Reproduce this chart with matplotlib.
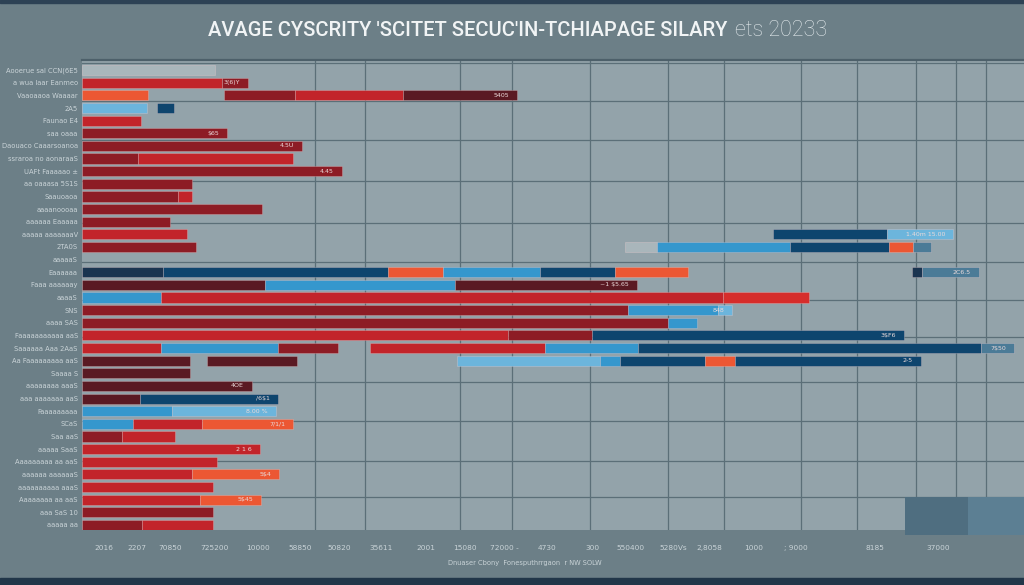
import matplotlib
matplotlib.use("Agg")
import matplotlib.pyplot as plt
from matplotlib.patches import Rectangle

# ---------------- data ----------------
TITLE_MAIN = "AVAGE CYSCRITY 'SCITET SECUC'IN-TCHIAPAGE SILARY"
TITLE_TAIL = "ets 20233"
FOOTER = "Dnuaser Cbony  Fonesputhrrgaon  r NW SOLW"

ROW_LABELS = [
    "Aooerue sal CCN(6E5", "a wua laar Eanmeo", "Vaaoaaoa Waaaar", "2A5",
    "Faunao E4", "saa oaaa", "Daouaco Caaarsoanoa", "ssraroa no aonaraaS",
    "UAFt Faaaaao \u00b1", "aa oaaasa 5S1S", "Saauoaoa", "aaaanoooaa",
    "aaaaaa Eaaaaa", "aaaaa aaaaaaaV", "2TA0S", "aaaaaS", "Eaaaaaa",
    "Faaa aaaaaay", "aaaaS", "SNS", "aaaa SAS", "Faaaaaaaaaaa aaS",
    "Saaaaaa Aaa 2AaS", "Aa Faaaaaaaaa aaS", "Saaaa S", "aaaaaaaa aaaS",
    "aaa aaaaaaa aaS", "Faaaaaaaaa", "SCaS", "Saa aaS", "aaaaa SaaS",
    "Aaaaaaaaa aa aaS", "aaaaaa aaaaaaS", "aaaaaaaaaa aaaS", "Aaaaaaaa aa aaS",
    "aaa SaS 10", "aaaaa aa",
]

# stacked segments per row: (width, colour key); 'gap' = empty stretch
ROW_SEGMENTS = [
    [(133, "gray")],
    [(140, "red"), (26, "dred")],
    [(66, "orange"), (76, "gap"), (71, "dred"), (108, "red"), (114, "maroon")],
    [(65, "lb2"), (10, "gap"), (17, "navy")],
    [(59, "red")],
    [(145, "dred")],
    [(220, "dred")],
    [(56, "dred"), (155, "red")],
    [(260, "dred")],
    [(110, "dred")],
    [(96, "dred"), (14, "red")],
    [(180, "dred")],
    [(88, "dred")],
    [(105, "red"), (586, "gap"), (114, "navy"), (66, "lb2")],
    [(114, "dred"), (429, "gap"), (32, "gray"), (133, "lb"), (99, "navy"), (24, "orange"), (18, "steel")],
    [],
    [(81, "dnavy"), (225, "navy"), (55, "orange"), (97, "lb"), (75, "navy"), (73, "orange"), (224, "gap"), (10, "dnavy"), (57, "steel")],
    [(183, "maroon"), (190, "lb"), (182, "maroon")],
    [(79, "lb"), (562, "red"), (86, "red2")],
    [(546, "dred"), (90, "lb"), (14, "lb2")],
    [(586, "dred"), (29, "lb")],
    [(426, "red"), (84, "dred"), (312, "navy")],
    [(79, "red"), (117, "lb"), (60, "dred"), (32, "gap"), (175, "red"), (93, "lb"), (343, "navy"), (33, "steel")],
    [(108, "maroon"), (17, "gap"), (90, "maroon"), (160, "gap"), (143, "lb2"), (20, "lb"), (85, "navy"), (30, "orange"), (186, "navy")],
    [(108, "maroon")],
    [(170, "maroon")],
    [(58, "maroon"), (138, "navy")],
    [(90, "lb"), (104, "lb2")],
    [(51, "lb"), (69, "red"), (91, "orange")],
    [(40, "dred"), (53, "red")],
    [(178, "red")],
    [(135, "red")],
    [(110, "red"), (87, "orange")],
    [(131, "red")],
    [(118, "red"), (61, "orange")],
    [(131, "dred")],
    [(60, "dred"), (71, "red")],
]

ROW_NOTES = {1: "3(6)Y", 2: "5405", 5: "$65", 6: "4.5U", 8: "4.45",
             13: "1.40m 15.00", 16: "2C6.5", 17: "~1 $5.65", 19: "848",
             21: "3$F6", 22: "7$50", 23: "2-5", 25: "4OE", 26: "/6$1",
             27: "8.00 %", 28: "7/1/1", 30: "2 1 6", 32: "5$4", 34: "5$45"}

CORNER_START = 823
CORNER_WIDTHS = [63, 56]
CORNER_KEYS = ["steel_d", "steel_l"]

XTICK_POS = [22, 55, 88, 133, 176, 218, 257, 299, 344, 383, 422, 465, 510,
             549, 591, 627, 672, 714, 793, 856]
XTICK_LABELS = ["2016", "2207", "70850", "725200", "10000", "58850", "50820",
                "35611", "2001", "15080", "72000 -", "4730", "300", "550400",
                "5280Vs", "2,8058", "1000", "; 9000", "8185", "37000"]

VGRID = [133, 233, 283, 378, 430, 508, 586, 642, 719, 775, 834, 874, 904]
HGRID = [-0.6, 2.45, 5.5, 8.8, 12.1, 15.2, 18.2, 21.1, 24.7, 27.8, 30.9, 33.8]

PALETTE = {
    "gray": "#a9b6bb", "red": "#c2242a", "red2": "#d62d2b", "dred": "#8d1c25",
    "maroon": "#5a1a23", "orange": "#ec5733", "lb": "#3597cd", "lb2": "#6cb5dc",
    "navy": "#0e456e", "dnavy": "#1a3450", "steel": "#4b7b97",
    "steel_d": "#4f6e80", "steel_l": "#5c7f93",
}

# ---------------- figure ----------------
FIG_BG = "#6c7f87"
AX_BG = "#93a3aa"
TXT = "#c9d3d7"

fig = plt.figure(figsize=(10.24, 5.85), dpi=100, facecolor=FIG_BG)
ax = fig.add_axes([82 / 1024, 1 - 530 / 585, 942 / 1024, 470 / 585])
ax.set_facecolor(AX_BG)

for i, segs in enumerate(ROW_SEGMENTS):
    left = 0
    for w, key in segs:
        if key != "gap":
            ax.barh(i, w, left=left, height=0.8, color=PALETTE[key],
                    edgecolor=(1, 0.85, 0.85, 0.35), linewidth=0.5, zorder=3)
        left += w
    if i in ROW_NOTES and segs:
        ax.text(left - 8, i, ROW_NOTES[i], ha="right", va="center",
                fontsize=4.5, color="#eadada", zorder=4)

left = CORNER_START
for w, key in zip(CORNER_WIDTHS, CORNER_KEYS):
    ax.barh(35.3, w, left=left, height=3.0, color=PALETTE[key], zorder=3,
            clip_on=False)
    left += w

ax.set_xlim(0, 942)
ax.set_ylim(36.4, -0.8)

ax.set_yticks(range(len(ROW_LABELS)))
ax.set_yticklabels(ROW_LABELS, fontsize=4.9, color=TXT)
ax.set_yticks(HGRID, minor=True)
ax.set_xticks(XTICK_POS)
ax.set_xticklabels(XTICK_LABELS, fontsize=5.3, color=TXT)
ax.set_xticks(VGRID, minor=True)
ax.tick_params(axis="both", which="both", length=0)
ax.tick_params(axis="x", pad=11)
ax.tick_params(axis="y", pad=3)

ax.grid(True, which="minor", color="#5b6f78", linewidth=0.9, zorder=0)
ax.grid(False, which="major")
ax.set_axisbelow(True)

for s in ["left", "right", "bottom"]:
    ax.spines[s].set_visible(False)
ax.spines["top"].set_color("#4d606a")
ax.spines["top"].set_linewidth(1.6)

# decorative borders
fig.patches.append(Rectangle((0, 1 - 3 / 585), 1, 3 / 585, transform=fig.transFigure,
                             color="#2d4255", zorder=0))
fig.patches.append(Rectangle((0, 0), 1, 7 / 585, transform=fig.transFigure,
                             color="#213649", zorder=0))

title_fonts = ["Roboto", "DejaVu Sans"]
fig.text(727 / 1024, 1 - 30 / 585, TITLE_MAIN, ha="right", va="center",
         fontsize=14.5, color="#f1f4f5", family=title_fonts, fontweight="medium")
fig.text(735 / 1024, 1 - 30 / 585, TITLE_TAIL, ha="left", va="center",
         fontsize=15.5, color="#dfe6e9", family=title_fonts, fontweight="light")

fig.text(525 / 1024, 1 - 563 / 585, FOOTER, ha="center", va="center",
         fontsize=4.8, color=TXT)

fig.savefig("out.png", dpi=100, facecolor=FIG_BG)
